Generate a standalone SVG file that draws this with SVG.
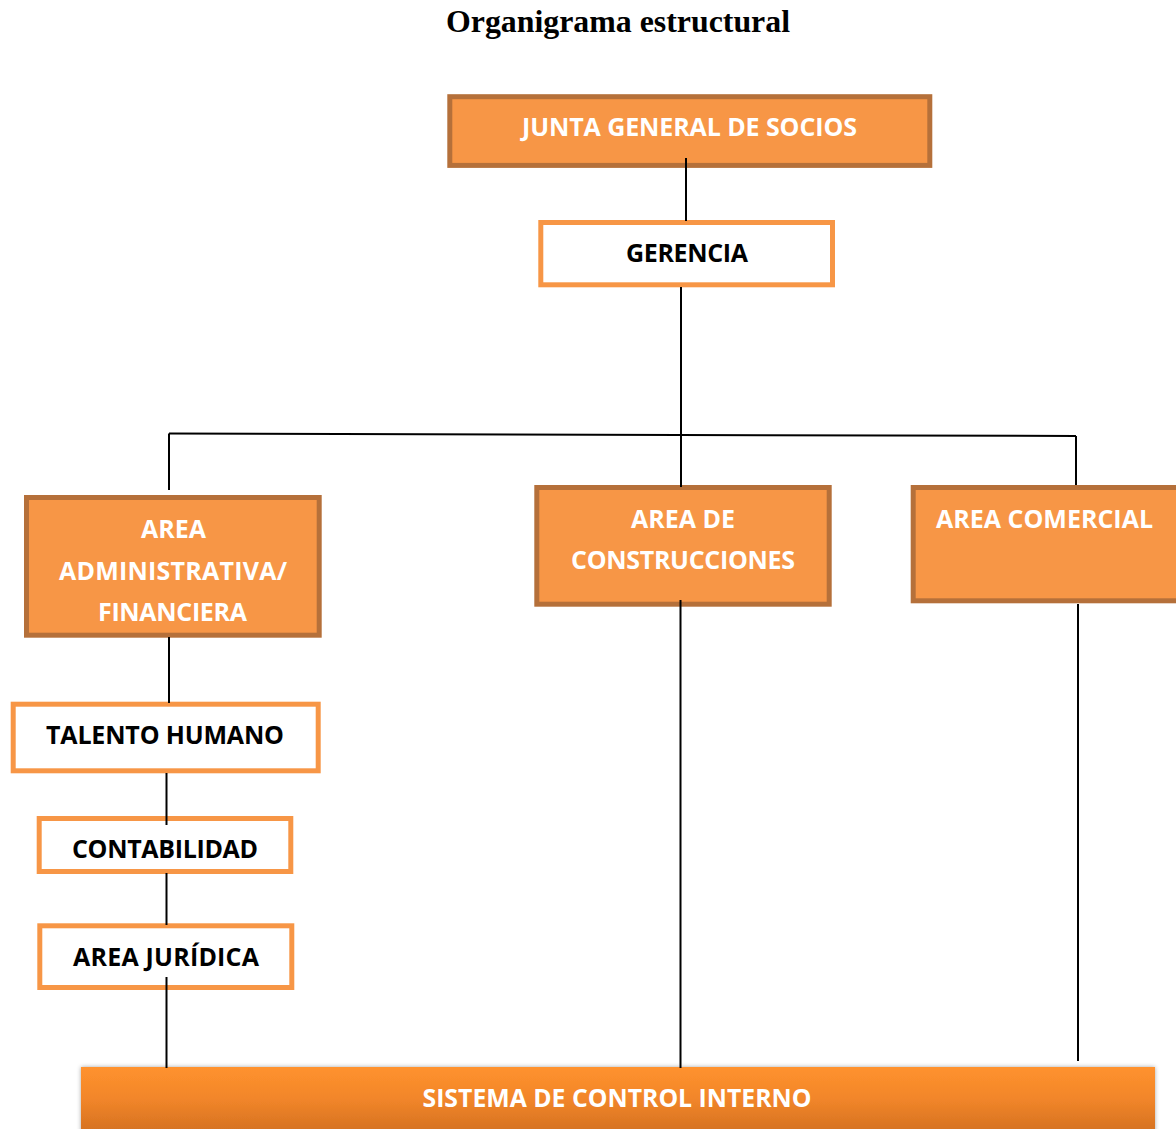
<svg xmlns="http://www.w3.org/2000/svg" width="1176" height="1129" viewBox="0 0 1176 1129">
  <defs>
    <linearGradient id="sysGrad" x1="0" y1="0" x2="0" y2="1">
      <stop offset="0" stop-color="#FF922E"/>
      <stop offset="0.45" stop-color="#F2862A"/>
      <stop offset="1" stop-color="#D06E1F"/>
    </linearGradient>
    <filter id="shadow" x="-2%" y="-20%" width="104%" height="140%">
      <feGaussianBlur in="SourceAlpha" stdDeviation="2"/>
      <feOffset dx="0" dy="0" result="b"/>
      <feFlood flood-color="#000" flood-opacity="0.35"/>
      <feComposite in2="b" operator="in"/>
      <feMerge><feMergeNode/><feMergeNode in="SourceGraphic"/></feMerge>
    </filter>
  </defs>
  <style>
    .title { font-family: "Liberation Serif", "Times New Roman", serif; font-weight: bold; font-size: 31px; fill: #000; }
    .orange { fill: #F79646; stroke: #B5703A; stroke-width: 5; }
    .white { fill: #FFFFFF; stroke: #F79646; stroke-width: 5; }
    .lblw { font-family: "Open Sans", "Liberation Sans", sans-serif; font-weight: bold; font-size: 25px; fill: #FFFFFF; text-anchor: middle; }
    .lblb { font-family: "Open Sans", "Liberation Sans", sans-serif; font-weight: bold; font-size: 25px; fill: #000000; text-anchor: middle; }
    .conn { stroke: #000; stroke-width: 2; fill: none; }
  </style>
  <rect width="1176" height="1129" fill="#FFFFFF"/>

  <text class="title" x="446" y="32" textLength="344" lengthAdjust="spacingAndGlyphs">Organigrama estructural</text>

  <g id="n-sistema">
    <rect x="81" y="1067" width="1074" height="70" fill="url(#sysGrad)" filter="url(#shadow)"/>
    <text class="lblw" x="617" y="1107" font-size="27" textLength="389" lengthAdjust="spacingAndGlyphs">SISTEMA DE CONTROL INTERNO</text>
  </g>

  <g id="n-junta">
    <rect class="orange" x="449.8" y="96.7" width="480" height="68.7"/>
    <text class="lblw" x="689.5" y="136" textLength="335">JUNTA GENERAL DE SOCIOS</text>
  </g>

  <g id="n-gerencia">
    <rect class="white" x="540.8" y="222.5" width="291.7" height="62.3"/>
    <text class="lblb" x="687" y="262" textLength="122">GERENCIA</text>
  </g>

  <g id="n-admin">
    <rect class="orange" x="26.5" y="497.5" width="292.7" height="137.7"/>
    <text class="lblw" x="173.5" y="537.5" textLength="65">AREA</text>
    <text class="lblw" x="173" y="579.5" textLength="228">ADMINISTRATIVA/</text>
    <text class="lblw" x="172.5" y="621" textLength="149">FINANCIERA</text>
  </g>

  <g id="n-construcciones">
    <rect class="orange" x="536.8" y="487.5" width="292.4" height="116.7"/>
    <text class="lblw" x="683" y="528" textLength="104">AREA DE</text>
    <text class="lblw" x="683" y="568.5" textLength="224">CONSTRUCCIONES</text>
  </g>

  <g id="n-comercial">
    <rect class="orange" x="913.2" y="487.5" width="270" height="113.3"/>
    <text class="lblw" x="1044.5" y="528" textLength="217">AREA COMERCIAL</text>
  </g>

  <g id="n-talento">
    <rect class="white" x="13.2" y="704.2" width="305" height="66.6"/>
    <text class="lblb" x="165" y="744" textLength="238">TALENTO HUMANO</text>
  </g>

  <g id="n-contabilidad">
    <rect class="white" x="39.2" y="818.5" width="251.6" height="53"/>
    <text class="lblb" x="165" y="857.5" textLength="186">CONTABILIDAD</text>
  </g>

  <g id="n-juridica">
    <rect class="white" x="39.8" y="925.8" width="252" height="61.7"/>
    <text class="lblb" x="166" y="966" textLength="186">AREA JURÍDICA</text>
  </g>

  <g id="connectors">
    <line class="conn" x1="686" y1="158" x2="686" y2="221"/>
    <line class="conn" x1="681" y1="287" x2="681" y2="487"/>
    <line class="conn" x1="169" y1="433.5" x2="1076" y2="436"/>
    <line class="conn" x1="169" y1="433.5" x2="169" y2="490"/>
    <line class="conn" x1="1076" y1="436" x2="1076" y2="485"/>
    <line class="conn" x1="169" y1="637" x2="169" y2="703"/>
    <line class="conn" x1="166.5" y1="773" x2="166.5" y2="825"/>
    <line class="conn" x1="166.5" y1="873" x2="166.5" y2="925"/>
    <line class="conn" x1="166.5" y1="977" x2="166.5" y2="1068"/>
    <line class="conn" x1="680.5" y1="600" x2="680.5" y2="1068"/>
    <line class="conn" x1="1078" y1="604" x2="1078" y2="1061"/>
  </g>
</svg>
